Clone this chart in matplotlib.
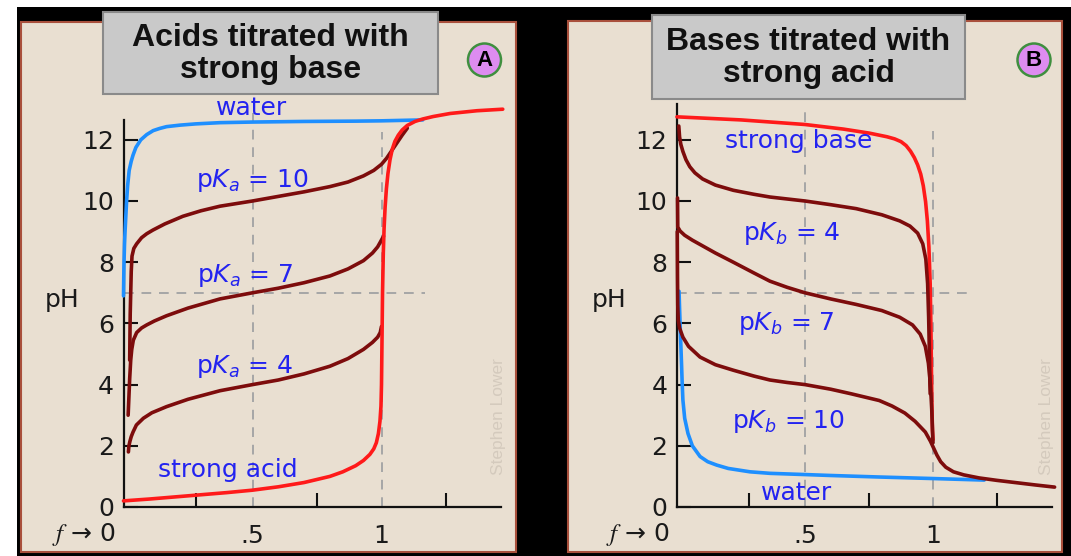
import matplotlib
matplotlib.use("Agg")
import matplotlib.pyplot as plt
from matplotlib.patches import Rectangle, Circle

W, H = 1071, 556

# --- A: acids titrated with strong base (f = fraction titrated, pH) ---
a_water_f = [0.0, 0.001, 0.002, 0.004, 0.006, 0.009, 0.012, 0.016, 0.022, 0.03, 0.037, 0.048,
             0.067, 0.09, 0.115, 0.14, 0.167, 0.22, 0.28, 0.374, 0.5, 0.7, 0.9, 1.0, 1.16]
a_water_ph = [6.9, 7.5, 8.0, 8.6, 9.0, 9.5, 10.0, 10.5, 11.0, 11.3, 11.5, 11.75,
              12.0, 12.17, 12.3, 12.37, 12.43, 12.48, 12.52, 12.56, 12.58, 12.6, 12.61, 12.62, 12.65]

a_strong_f = [0.0, 0.1, 0.2, 0.3, 0.4, 0.5, 0.6, 0.7, 0.8, 0.85, 0.9, 0.93, 0.955, 0.97, 0.98,
              0.988, 0.994, 0.998, 1.0, 1.002, 1.004, 1.007, 1.01, 1.014, 1.019, 1.025, 1.033,
              1.042, 1.052, 1.065, 1.08, 1.1, 1.13, 1.16, 1.2, 1.266, 1.37, 1.47]
a_strong_ph = [0.2, 0.26, 0.33, 0.4, 0.47, 0.55, 0.66, 0.8, 1.0, 1.15, 1.35, 1.52, 1.72, 1.9, 2.1,
               2.4, 2.8, 3.3, 4.0, 5.5, 7.0, 8.3, 9.1, 9.8, 10.4, 10.9, 11.35,
               11.7, 11.95, 12.15, 12.32, 12.47, 12.6, 12.68, 12.76, 12.86, 12.95, 13.0]

a_pka4_f = [0.019, 0.021, 0.025, 0.03, 0.037, 0.05, 0.077, 0.11, 0.167, 0.25, 0.374, 0.5,
            0.6, 0.7, 0.8, 0.87, 0.93, 0.965, 0.985, 0.995, 1.0]
a_pka4_ph = [1.8, 2.0, 2.15, 2.3, 2.45, 2.68, 2.9, 3.08, 3.28, 3.52, 3.8, 4.0,
             4.15, 4.35, 4.6, 4.85, 5.15, 5.38, 5.55, 5.7, 5.9]

a_pka7_f = [0.018, 0.021, 0.024, 0.028, 0.032, 0.038, 0.051, 0.07, 0.09, 0.12, 0.167, 0.25,
            0.374, 0.5, 0.6, 0.7, 0.8, 0.87, 0.93, 0.965, 0.985, 0.995, 1.008]
a_pka7_ph = [3.0, 3.6, 4.2, 4.8, 5.15, 5.45, 5.7, 5.85, 5.95, 6.08, 6.25, 6.5,
             6.8, 7.0, 7.15, 7.33, 7.55, 7.78, 8.05, 8.3, 8.5, 8.65, 8.85]

a_pka10_f = [0.024, 0.025, 0.026, 0.028, 0.03, 0.033, 0.04, 0.051, 0.07, 0.09, 0.114, 0.16,
             0.23, 0.3, 0.374, 0.5, 0.6, 0.7, 0.8, 0.87, 0.93, 0.97, 1.0, 1.02, 1.04, 1.06,
             1.08, 1.1]
a_pka10_ph = [4.8, 5.6, 6.3, 7.0, 7.7, 8.2, 8.45, 8.6, 8.8, 8.93, 9.05, 9.25,
              9.5, 9.68, 9.83, 10.0, 10.15, 10.3, 10.47, 10.62, 10.82, 11.0, 11.2, 11.4, 11.65, 11.9,
              12.15, 12.38]

# --- B: bases titrated with strong acid ---
b_water_f = [0.008, 0.01, 0.012, 0.015, 0.018, 0.02, 0.023, 0.03, 0.043, 0.06, 0.09, 0.12,
             0.155, 0.2, 0.285, 0.363, 0.5, 0.6, 0.79, 1.0, 1.2]
b_water_ph = [7.05, 6.5, 6.0, 5.3, 4.6, 4.1, 3.5, 2.9, 2.4, 2.0, 1.65, 1.48,
              1.37, 1.26, 1.15, 1.1, 1.06, 1.03, 0.98, 0.93, 0.88]

b_strong_f = [0.0, 0.25, 0.5, 0.65, 0.75, 0.82, 0.85, 0.875, 0.895, 0.912, 0.927, 0.94, 0.952,
              0.962, 0.971, 0.978, 0.984, 0.989, 0.992, 0.994, 0.996, 0.998, 1.0]
b_strong_ph = [12.75, 12.65, 12.5, 12.35, 12.22, 12.1, 12.03, 11.94, 11.81, 11.63, 11.42, 11.18, 10.88,
               10.5, 9.98, 9.35, 8.5, 7.3, 5.8, 4.4, 3.2, 2.5, 2.2]

b_pkb4_f = [0.007, 0.01, 0.015, 0.023, 0.035, 0.05, 0.07, 0.1, 0.15, 0.22, 0.3, 0.363, 0.5,
            0.6, 0.7, 0.8, 0.87, 0.91, 0.94, 0.96, 0.972, 0.979, 0.983, 0.986, 0.988, 0.989]
b_pkb4_ph = [12.45, 12.1, 11.85, 11.62, 11.35, 11.12, 10.92, 10.72, 10.52, 10.35, 10.22, 10.13, 10.0,
             9.88, 9.75, 9.55, 9.35, 9.18, 8.95, 8.6, 8.1, 7.3, 6.2, 5.0, 4.0, 3.7]

b_pkb7_f = [0.002, 0.003, 0.012, 0.03, 0.06, 0.09, 0.15, 0.22, 0.3, 0.363, 0.43, 0.5, 0.6,
            0.7, 0.8, 0.87, 0.92, 0.95, 0.97, 0.982, 0.99, 0.995, 0.998, 1.0]
b_pkb7_ph = [10.1, 9.15, 9.02, 8.88, 8.72, 8.58, 8.3, 8.0, 7.65, 7.38, 7.18, 7.0, 6.8,
             6.62, 6.42, 6.2, 5.95, 5.65, 5.25, 4.7, 4.0, 3.2, 2.5, 2.1]

b_pkb10_f = [0.001, 0.002, 0.003, 0.005, 0.01, 0.023, 0.045, 0.09, 0.15, 0.22, 0.3, 0.363,
             0.43, 0.5, 0.6, 0.68, 0.79, 0.84, 0.89, 0.93, 0.97, 0.99, 1.0, 1.015, 1.03, 1.05,
             1.08, 1.12, 1.18, 1.25, 1.32, 1.4, 1.475]
b_pkb10_ph = [9.0, 7.5, 6.6, 6.1, 5.85, 5.55, 5.25, 4.9, 4.65, 4.47, 4.28, 4.15,
              4.07, 4.0, 3.85, 3.7, 3.48, 3.3, 3.07, 2.8, 2.45, 2.15, 1.97, 1.7, 1.48, 1.3,
              1.15, 1.05, 0.95, 0.87, 0.8, 0.72, 0.65]

x_labels = [".5", "1"]
x_label_pos = [0.5, 1.0]
x_marks = [0.28, 0.75, 1.0, 1.25]
y_ticks = [0, 2, 4, 6, 8, 10, 12]

BEIGE = "#e9dfd1"
BORDER = "#a9503c"
BLUE_LINE = "#1e8fff"
RED = "#ff1a1a"
DARK_RED = "#7d0c0c"
LABEL_BLUE = "#2323f0"
DASH = "#a6a6a6"

fig = plt.figure(figsize=(W / 100, H / 100), dpi=100)
fig.patch.set_facecolor("white")

# pixel-space backdrop
bg = fig.add_axes([0, 0, 1, 1])
bg.set_xlim(0, W)
bg.set_ylim(H, 0)
bg.axis("off")
bg.add_patch(Rectangle((17, 7), W - 17, H - 7, fc="black", ec="none"))


def panel(box, origin, scale, ytop):
    x0, y0, x1, y1 = box
    bg.add_patch(Rectangle((x0, y0), x1 - x0, y1 - y0, fc=BEIGE, ec=BORDER, lw=1.5))
    ax = fig.add_axes([x0 / W, 1 - y1 / H, (x1 - x0) / W, (y1 - y0) / H])
    ox, oy = origin
    sx, sy = scale
    ax.set_xlim((x0 - ox) / sx, (x1 - ox) / sx)
    ax.set_ylim((oy - y1) / sy, (oy - y0) / sy)
    ax.patch.set_alpha(0)
    for s in ["top", "right"]:
        ax.spines[s].set_visible(False)
    for s in ["left", "bottom"]:
        ax.spines[s].set_position(("data", 0))
        ax.spines[s].set_linewidth(1.6)
        ax.spines[s].set_color("#111111")
    ax.spines["left"].set_bounds(0, ytop)
    ax.spines["bottom"].set_bounds(0, 1.465)
    ax.set_yticks(y_ticks, [str(v) for v in y_ticks])
    ax.set_xticks(x_label_pos, x_labels)
    ax.set_xticks(x_marks, minor=True)
    ax.tick_params(axis="y", direction="in", length=10, width=1.5, pad=7,
                   labelsize=18, color="#111111", labelcolor="#1a1a1a")
    ax.tick_params(axis="x", which="major", length=0, pad=12, labelsize=18,
                   labelcolor="#1a1a1a")
    ax.tick_params(axis="x", which="minor", direction="in", length=10, width=1.5,
                   color="#111111")
    ax.text(-0.03, -1.1, r"$f$ → 0", ha="right", va="baseline", fontsize=18,
            math_fontfamily="stix", color="#1a1a1a")
    ax.text((x0 + 41 - ox) / sx, 6.76, "pH", ha="center", va="center", fontsize=18,
            color="#1a1a1a")
    return ax


def dashes(ax, top05, top1, right7):
    kw = dict(color=DASH, lw=1.4, dashes=(5, 4), zorder=1)
    ax.plot([0.5, 0.5], [0, top05], **kw)
    ax.plot([1.0, 1.0], [0, top1], **kw)
    ax.plot([0, right7], [7, 7], **kw)


lw = 2.6
curve = dict(lw=lw, solid_capstyle="round", solid_joinstyle="round")

# panel A
axa = panel((21, 22, 516, 552), (123.5, 507), (258, 30.6), 12.65)
dashes(axa, 12.88, 12.25, 1.17)
axa.plot(a_water_f, a_water_ph, color=BLUE_LINE, zorder=3, **curve)
axa.plot(a_pka10_f, a_pka10_ph, color=DARK_RED, zorder=3, **curve)
axa.plot(a_pka7_f, a_pka7_ph, color=DARK_RED, zorder=3, **curve)
axa.plot(a_pka4_f, a_pka4_ph, color=DARK_RED, zorder=3, **curve)
axa.plot(a_strong_f, a_strong_ph, color=RED, zorder=4, **curve)

lab = dict(color=LABEL_BLUE, fontsize=18, ha="center", va="baseline", zorder=5)
axa.text(0.498, 12.8, "water", **lab)
axa.text(0.5, 10.46, r"p$K_a$ = 10", **lab)
axa.text(0.47, 7.35, r"p$K_a$ = 7", **lab)
axa.text(0.47, 4.38, r"p$K_a$ = 4", **lab)
axa.text(0.403, 0.98, "strong acid", **lab)

# panel B
axb = panel((568, 21, 1062, 552), (677, 507), (256, 30.6), 13.17)
dashes(axb, 12.9, 12.3, 1.16)
axb.plot(b_water_f, b_water_ph, color=BLUE_LINE, zorder=3, **curve)
axb.plot(b_strong_f, b_strong_ph, color=RED, zorder=3, **curve)
axb.plot(b_pkb4_f, b_pkb4_ph, color=DARK_RED, zorder=4, **curve)
axb.plot(b_pkb7_f, b_pkb7_ph, color=DARK_RED, zorder=4, **curve)
axb.plot(b_pkb10_f, b_pkb10_ph, color=DARK_RED, zorder=4, **curve)

axb.text(0.475, 11.73, "strong base", **lab)
axb.text(0.449, 8.73, r"p$K_b$ = 4", **lab)
axb.text(0.426, 5.78, r"p$K_b$ = 7", **lab)
axb.text(0.434, 2.58, r"p$K_b$ = 10", **lab)
axb.text(0.469, 0.23, "water", **lab)

# overlay: titles, panel badges, credit
fg = fig.add_axes([0, 0, 1, 1], zorder=10)
fg.set_xlim(0, W)
fg.set_ylim(H, 0)
fg.axis("off")
fg.patch.set_alpha(0)

titles = [("Acids titrated with\nstrong base", (103, 12, 438, 94)),
          ("Bases titrated with\nstrong acid", (652, 15, 965, 99))]
for txt, (x0, y0, x1, y1) in titles:
    fg.add_patch(Rectangle((x0, y0), x1 - x0, y1 - y0, fc="#c9c9c9", ec="#8a8a8a", lw=1.5))
    fg.text((x0 + x1) / 2, (y0 + y1) / 2 + 1, txt, ha="center", va="center",
            fontsize=23, fontweight="bold", family="Liberation Sans",
            linespacing=1.12, color="#111111")

for letter, cx in [("A", 484.5), ("B", 1034)]:
    fg.add_patch(Circle((cx, 60), 16.5, fc="#dd8cf0", ec="#3f8f3f", lw=1.8))
    fg.text(cx, 61, letter, ha="center", va="center", fontsize=16,
            fontweight="bold", family="Liberation Sans", color="black")

for cx in [498.5, 1047]:
    fg.text(cx, 417, "Stephen Lower", rotation=90, ha="center", va="center",
            fontsize=12.5, family="Liberation Sans", color="#d4cabd")

fig.savefig("out.png", dpi=100)
